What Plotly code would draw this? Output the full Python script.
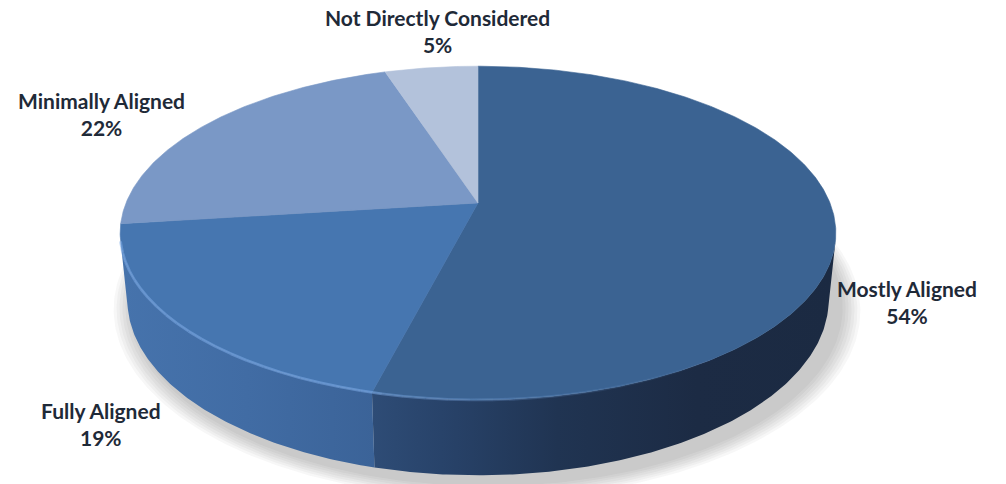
import numpy as np
import plotly.graph_objects as go

# Survey result shares (percent)
categories = ["Mostly Aligned", "Fully Aligned", "Minimally Aligned", "Not Directly Considered"]
shares = [54, 19, 22, 5]

# Slice colours: top face, and side wall gradient stops
top_colors = ["#3B6392", "#4676B0", "#7A98C6", "#B3C2DB"]
side_scales = [
    [[0.0, "#2E4C76"], [0.15, "#28436A"], [0.4, "#203452"], [0.7, "#1C2B44"], [1.0, "#1B2A42"]],
    [[0.0, "#4673AC"], [0.5, "#416CA4"], [1.0, "#3B6398"]],
    [[0.0, "#6A88B6"], [1.0, "#6A88B6"]],
    [[0.0, "#9FB0CC"], [1.0, "#9FB0CC"]],
]
label_color = "#1F2A38"

# --- simple perspective camera for a tilted disc of unit radius ---
ELEV = np.radians(27.3)      # camera elevation
DIST = 4.933                 # camera distance in radii
DEPTH = 0.215                # thickness of the disc in radii
PX_PER_UNIT = 352.0
CENTER_PX = (478.0, 203.0)
W, H = 1006, 484


def project(X, Y, Z):
    xc = X
    yc = Y * np.cos(ELEV) + Z * np.sin(ELEV)
    zc = DIST + Z * np.cos(ELEV) - Y * np.sin(ELEV)
    return DIST * xc / zc, DIST * yc / zc


def rim(a0, a1, y=0.0, r=1.0, n=None, dx=0.0, dz=0.0):
    if n is None:
        n = max(int(abs(a1 - a0) * 2), 4)
    t = np.radians(np.linspace(a0, a1, n))
    return project(r * np.sin(t) + dx, np.full_like(t, y), r * np.cos(t) + dz)


# angular extents, clockwise from 12 o'clock
bounds = np.concatenate([[0], np.cumsum(shares)]) / sum(shares) * 360.0
# side wall is visible where the outward normal faces the camera
theta_vis = np.degrees(np.arccos(-1.0 / (DIST * np.cos(ELEV))))

fig = go.Figure()

# soft drop shadow under the disc
for k in range(7):
    r = 1.0 + 0.008 * (k + 1)
    sx, sy = rim(0, 360, y=-DEPTH, r=r, n=400, dx=0.025, dz=-0.035)
    fig.add_trace(go.Scatter(x=sx, y=sy, mode="lines", fill="toself",
                             fillcolor="rgba(60,60,60,0.04)", line=dict(width=0),
                             hoverinfo="skip", showlegend=False))

# side walls
for i in range(len(shares)):
    a0 = max(bounds[i], theta_vis)
    a1 = min(bounds[i + 1], 360 - theta_vis)
    if a1 <= a0:
        continue
    tx, ty = rim(a0, a1, y=0.0)
    bx, by = rim(a1, a0, y=-DEPTH)
    xs = np.concatenate([tx, bx, tx[:1]])
    ys = np.concatenate([ty, by, ty[:1]])
    fig.add_trace(go.Scatter(
        x=xs, y=ys, mode="lines", fill="toself", line=dict(width=0),
        fillgradient=dict(type="horizontal", colorscale=side_scales[i],
                          start=float(xs.min()), stop=float(xs.max())),
        hoverinfo="skip", showlegend=False))

# top faces
for i in range(len(shares)):
    ax, ay = rim(bounds[i], bounds[i + 1])
    cx, cy = project(0.0, 0.0, 0.0)
    xs = np.concatenate([[cx], ax, [cx]])
    ys = np.concatenate([[cy], ay, [cy]])
    fig.add_trace(go.Scatter(x=xs, y=ys, mode="lines", fill="toself",
                             fillcolor=top_colors[i], line=dict(width=0.6, color=top_colors[i]),
                             hoverinfo="skip", showlegend=False, name=categories[i]))

# light bevel along the front rim
step = 3.0
a = 130.0
while a < 360 - theta_vis:
    b = min(a + step, 360 - theta_vis)
    mid = 0.5 * (a + b)
    if mid < bounds[1]:
        alpha = 0.45 * np.clip((mid - 140.0) / (bounds[1] - 140.0), 0, 1) ** 1.5
    else:
        alpha = 0.5
    rx, ry = rim(a, b, n=6)
    fig.add_trace(go.Scatter(x=rx, y=ry, mode="lines",
                             line=dict(width=2.8, color=f"rgba(130,175,235,{alpha:.3f})"),
                             hoverinfo="skip", showlegend=False))
    a = b

# data labels
label_pos = [(907, 302), (101, 424), (101, 114), (437, 31)]
for name, val, (px, py) in zip(categories, shares, label_pos):
    fig.add_annotation(x=px / W, y=1 - py / H, xref="paper", yref="paper",
                       text=f"{name}<br>{val}%", showarrow=False,
                       xanchor="center", yanchor="middle", align="center",
                       font=dict(family="Lato, 'Open Sans', sans-serif", size=21,
                                 color=label_color, weight="bold"))

cxp, cyp = CENTER_PX
fig.update_layout(
    width=W, height=H,
    margin=dict(l=0, r=0, t=0, b=0),
    paper_bgcolor="white", plot_bgcolor="white",
    xaxis=dict(visible=False, range=[-cxp / PX_PER_UNIT, (W - cxp) / PX_PER_UNIT], fixedrange=True),
    yaxis=dict(visible=False, range=[-(H - cyp) / PX_PER_UNIT, cyp / PX_PER_UNIT], fixedrange=True),
    hovermode=False,
)

fig.write_html("out.html")
